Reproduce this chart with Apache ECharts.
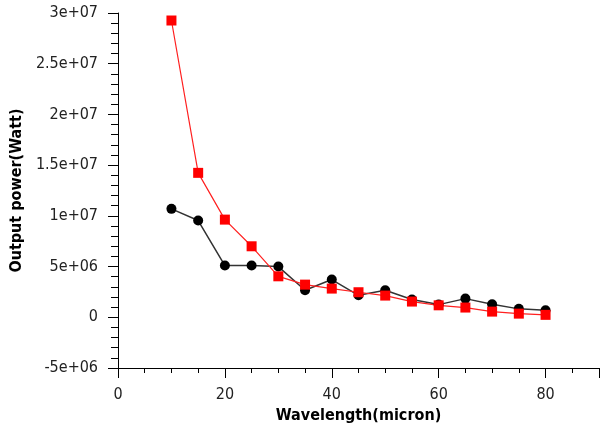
<!DOCTYPE html>
<html>
<head>
<meta charset="utf-8">
<script src="https://cdn.jsdelivr.net/npm/echarts@6/dist/echarts.min.js"></script>
<style>html,body{margin:0;padding:0;background:#fff;}#c{width:601px;height:424px;}</style>
</head>
<body>
<div id="c"></div>
<script>
var wavelengths = [10, 15, 20, 25, 30, 35, 40, 45, 50, 55, 60, 65, 70, 75, 80];
var blackSeries = [10.69e6, 9.54e6, 5.10e6, 5.10e6, 5.0e6, 2.66e6, 3.72e6, 2.17e6, 2.66e6, 1.75e6, 1.25e6, 1.84e6, 1.28e6, 0.83e6, 0.69e6];
var redSeries = [29.26e6, 14.24e6, 9.63e6, 7.0e6, 4.04e6, 3.22e6, 2.83e6, 2.47e6, 2.14e6, 1.55e6, 1.18e6, 0.96e6, 0.56e6, 0.36e6, 0.24e6];
var yTickLabels = {"-5000000": "-5e+06", "0": "0", "5000000": "5e+06", "10000000": "1e+07", "15000000": "1.5e+07", "20000000": "2e+07", "25000000": "2.5e+07", "30000000": "3e+07"};

function pairs(xs, ys) { return xs.map(function (x, i) { return [x, ys[i]]; }); }

var chart = echarts.init(document.getElementById('c'), null, {renderer: 'canvas'});
var font = '"DejaVu Sans Condensed", "DejaVu Sans", sans-serif';
chart.setOption({
  animation: false,
  backgroundColor: '#ffffff',
  grid: {left: 118, right: 2, top: 13, bottom: 56, containLabel: false, outerBoundsMode: 'none'},
  xAxis: {
    type: 'value', min: 0, max: 90, interval: 20,
    name: 'Wavelength(micron)', nameLocation: 'middle', nameGap: 36,
    nameTextStyle: {fontFamily: font, fontWeight: 'bold', fontSize: 16, color: '#000'},
    axisLine: {onZero: false, lineStyle: {color: '#000', width: 1}},
    axisTick: {show: true, inside: false, length: 10, lineStyle: {color: '#000'}},
    minorTick: {show: true, splitNumber: 4, length: 5, lineStyle: {color: '#000'}},
    splitLine: {show: false},
    axisLabel: {fontFamily: font, fontSize: 16, color: '#222', margin: 19, showMaxLabel: false,
      formatter: function (v) { return v > 80 ? '' : String(v); }}
  },
  yAxis: {
    type: 'value', min: -5e6, max: 3e7, interval: 5e6,
    name: 'Output power(Watt)', nameLocation: 'middle', nameGap: 86, nameRotate: 90,
    nameTextStyle: {fontFamily: font, fontWeight: 'bold', fontSize: 16, color: '#000'},
    axisLine: {show: true, onZero: false, lineStyle: {color: '#000', width: 1}},
    axisTick: {show: true, inside: false, length: 10, lineStyle: {color: '#000'}},
    minorTick: {show: true, splitNumber: 5, length: 7, lineStyle: {color: '#000'}},
    splitLine: {show: false},
    axisLabel: {fontFamily: font, fontSize: 16, color: '#222', margin: 20,
      formatter: function (v) { return yTickLabels[String(v)] !== undefined ? yTickLabels[String(v)] : String(v); }}
  },
  series: [
    {
      type: 'line', data: pairs(wavelengths, blackSeries),
      symbol: 'circle', symbolSize: 10,
      itemStyle: {color: '#000'},
      lineStyle: {color: '#333', width: 1.5}
    },
    {
      type: 'line', data: pairs(wavelengths, redSeries),
      symbol: 'rect', symbolSize: 10,
      itemStyle: {color: '#ff0000'},
      lineStyle: {color: '#ff2020', width: 1.2}
    }
  ]
});
</script>
</body>
</html>
